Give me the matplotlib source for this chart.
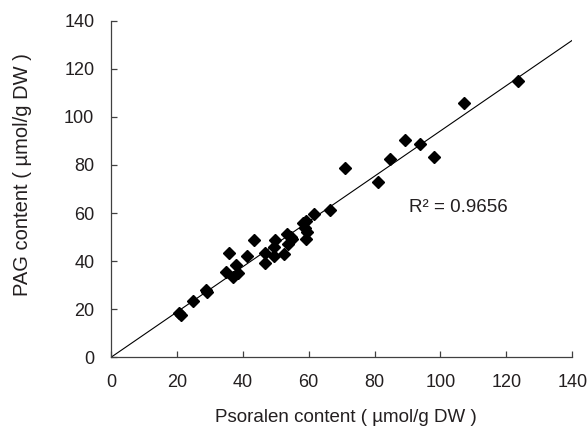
import numpy as np
import matplotlib
matplotlib.use("Agg")
import matplotlib.pyplot as plt

plt.rcParams["font.family"] = ["Liberation Sans", "DejaVu Sans"]

# Psoralen vs PAG content (µmol/g DW)
psoralen = [20.6, 21.3, 25.0, 28.8, 29.2, 34.8, 35.7, 37.1, 37.9, 38.4,
            41.4, 43.4, 46.6, 46.8, 49.4, 49.6, 49.8, 52.5, 53.5, 53.8,
            54.6, 55.0, 58.4, 59.2, 58.8, 59.5, 59.1, 61.6, 66.5, 70.9,
            81.0, 84.6, 89.1, 93.8, 97.9, 107.0, 123.6]
pag = [18.3, 17.7, 23.4, 27.9, 27.0, 35.3, 43.4, 33.5, 38.3, 34.9,
       42.3, 48.7, 39.2, 43.2, 46.0, 42.0, 48.7, 42.8, 51.2, 47.0,
       50.2, 49.1, 55.9, 56.8, 53.6, 52.0, 49.1, 59.7, 61.4, 78.6,
       72.9, 82.6, 90.5, 88.6, 83.3, 105.6, 115.1]
r2_label = "R² = 0.9656"
ticks = [0, 20, 40, 60, 80, 100, 120, 140]

x = np.array(psoralen)
y = np.array(pag)
# linear trendline forced through the origin
slope = np.sum(x * y) / np.sum(x * x)

text_color = "#231f20"
W, H = 588, 432

fig = plt.figure(figsize=(5.88, 4.32), dpi=100)
ax = fig.add_axes([111 / W, 1 - 357.3 / H, (572.3 - 111) / W, (357.3 - 20.7) / H])

line_x = np.array([0, 140])
ax.plot(line_x, slope * line_x, color="black", linewidth=0.8, zorder=2)
ax.plot(x, y, linestyle="none", marker="D", markersize=6,
        color="black", zorder=3)

ax.text(90.4, 62.1, r2_label, fontsize=13.5, color=text_color, va="center")

ax.set_xlim(0, 140)
ax.set_ylim(0, 140)
ax.set_xticks(ticks)
ax.set_yticks(ticks)
ax.tick_params(direction="in", length=4, width=0.9, colors="#404040",
               labelcolor=text_color, labelsize=13, pad=12)
for side in ["top", "right"]:
    ax.spines[side].set_visible(False)
for side in ["left", "bottom"]:
    ax.spines[side].set_color("#404040")
    ax.spines[side].set_linewidth(0.9)

fig.text(346 / W, 1 - 418 / H, "Psoralen content ( µmol/g DW )", fontsize=13.5,
         color=text_color, ha="center", va="center")
fig.text(22.5 / W, 1 - 175 / H, "PAG content ( µmol/g DW )", fontsize=14.5,
         color=text_color, ha="center", va="center", rotation=90)

fig.savefig("out.png", dpi=100)
